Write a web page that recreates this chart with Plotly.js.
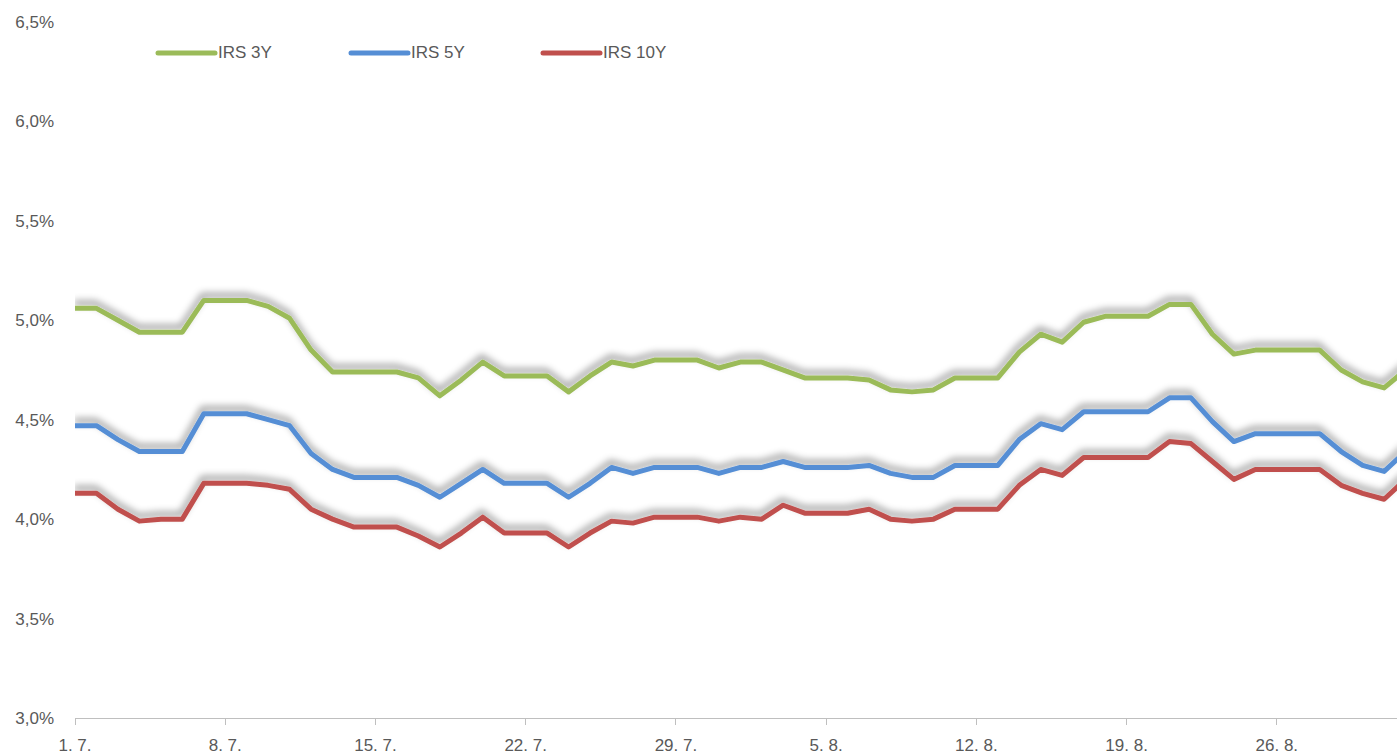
<!DOCTYPE html>
<html>
<head>
<meta charset="utf-8">
<script src="https://cdn.plot.ly/plotly-3.0.1.min.js"></script>
<style>
  html, body { margin: 0; padding: 0; background: #ffffff; }
  #chart { width: 1397px; height: 756px; }
</style>
</head>
<body>
<div id="chart"></div>
<script>
// ---- data ----
var startDate = '2024-07-01';
var seriesNames = ['IRS 3Y', 'IRS 5Y', 'IRS 10Y'];
var seriesColors = ['#9BBB59', '#558ED5', '#C0504D'];

var irs3y = [5.06, 5.06, 5.00, 4.94, 4.94, 4.94, 5.10, 5.10, 5.10, 5.07,
             5.01, 4.85, 4.74, 4.74, 4.74, 4.74, 4.71, 4.62, 4.70, 4.79,
             4.72, 4.72, 4.72, 4.64, 4.72, 4.79, 4.77, 4.80, 4.80, 4.80,
             4.76, 4.79, 4.79, 4.75, 4.71, 4.71, 4.71, 4.70, 4.65, 4.64,
             4.65, 4.71, 4.71, 4.71, 4.84, 4.93, 4.89, 4.99, 5.02, 5.02,
             5.02, 5.08, 5.08, 4.93, 4.83, 4.85, 4.85, 4.85, 4.85, 4.75,
             4.69, 4.66, 4.75];
var irs5y = [4.47, 4.47, 4.40, 4.34, 4.34, 4.34, 4.53, 4.53, 4.53, 4.50,
             4.47, 4.33, 4.25, 4.21, 4.21, 4.21, 4.17, 4.11, 4.18, 4.25,
             4.18, 4.18, 4.18, 4.11, 4.18, 4.26, 4.23, 4.26, 4.26, 4.26,
             4.23, 4.26, 4.26, 4.29, 4.26, 4.26, 4.26, 4.27, 4.23, 4.21,
             4.21, 4.27, 4.27, 4.27, 4.40, 4.48, 4.45, 4.54, 4.54, 4.54,
             4.54, 4.61, 4.61, 4.49, 4.39, 4.43, 4.43, 4.43, 4.43, 4.34,
             4.27, 4.24, 4.34];
var irs10y = [4.13, 4.13, 4.05, 3.99, 4.00, 4.00, 4.18, 4.18, 4.18, 4.17,
              4.15, 4.05, 4.00, 3.96, 3.96, 3.96, 3.915, 3.86, 3.93, 4.01,
              3.93, 3.93, 3.93, 3.86, 3.93, 3.99, 3.98, 4.01, 4.01, 4.01,
              3.99, 4.01, 4.00, 4.07, 4.03, 4.03, 4.03, 4.05, 4.00, 3.99,
              4.00, 4.05, 4.05, 4.05, 4.17, 4.25, 4.22, 4.31, 4.31, 4.31,
              4.31, 4.39, 4.38, 4.29, 4.20, 4.25, 4.25, 4.25, 4.25, 4.17,
              4.13, 4.10, 4.20];

var tickDates = ['2024-07-01', '2024-07-08', '2024-07-15', '2024-07-22', '2024-07-29',
                 '2024-08-05', '2024-08-12', '2024-08-19', '2024-08-26'];
var tickLabels = ['1. 7.', '8. 7.', '15. 7.', '22. 7.', '29. 7.',
                  '5. 8.', '12. 8.', '19. 8.', '26. 8.'];
var yTicks = [3.0, 3.5, 4.0, 4.5, 5.0, 5.5, 6.0, 6.5];
var yTickLabels = ['3,0%', '3,5%', '4,0%', '4,5%', '5,0%', '5,5%', '6,0%', '6,5%'];

// ---- x dates (one per calendar day) ----
function dayString(i) {
  var d = new Date(startDate + 'T00:00:00Z');
  d.setUTCDate(d.getUTCDate() + i);
  return d.toISOString().slice(0, 10);
}
var dates = irs3y.map(function (_, i) { return dayString(i); });

var allSeries = [irs3y, irs5y, irs10y];
var traces = allSeries.map(function (vals, k) {
  return {
    type: 'scatter', mode: 'lines', name: seriesNames[k],
    x: dates, y: vals,
    line: { color: seriesColors[k], width: 5 },
    hoverinfo: 'skip'
  };
});

// ---- layout helpers (pixels -> paper) ----
var W = 1397, H = 756, ML = 75, MR = 0, MT = 22, MB = 38;
var PW = W - ML - MR, PH = H - MT - MB;
function px(x) { return (x - ML) / PW; }
function py(y) { return (H - MB - y) / PH; }

var legendX = [158, 351, 543];
var legendLen = 57;
var legendY = 53;
var shapes = [], annotations = [];
seriesNames.forEach(function (n, k) {
  shapes.push({
    type: 'line', xref: 'paper', yref: 'paper',
    x0: px(legendX[k]), x1: px(legendX[k] + legendLen),
    y0: py(legendY), y1: py(legendY),
    line: { color: seriesColors[k], width: 5 }
  });
  annotations.push({
    xref: 'paper', yref: 'paper', x: px(legendX[k] + legendLen + 1), y: py(legendY),
    xanchor: 'left', yanchor: 'middle', showarrow: false,
    text: n, font: { size: 17, color: '#595959' }
  });
});

var layout = {
  width: W, height: H,
  margin: { l: ML, r: MR, t: MT, b: MB, pad: 0 },
  paper_bgcolor: '#ffffff', plot_bgcolor: '#ffffff',
  showlegend: false,
  font: { family: 'Liberation Sans, Arial, sans-serif', size: 17, color: '#595959' },
  xaxis: {
    type: 'date',
    range: ['2024-07-01', '2024-08-31 14:24'],
    tickmode: 'array', tickvals: tickDates, ticktext: tickLabels,
    showgrid: false, zeroline: false,
    showline: true, linecolor: '#bfbfbf', linewidth: 1,
    ticks: 'outside', ticklen: 6, tickcolor: '#bfbfbf', tickwidth: 1,
    ticklabelstandoff: 6,
    tickfont: { size: 17, color: '#595959' }
  },
  yaxis: {
    range: [3.0, 6.5],
    tickmode: 'array', tickvals: yTicks, ticktext: yTickLabels,
    showgrid: false, zeroline: false, showline: false, ticks: '',
    ticklabelstandoff: 20,
    tickfont: { size: 17, color: '#595959' }
  },
  shapes: shapes,
  annotations: annotations
};

Plotly.newPlot('chart', traces, layout, { staticPlot: true }).then(function () {
  var svg = document.querySelector('#chart .main-svg');
  var ns = 'http://www.w3.org/2000/svg';
  var defs = svg.querySelector('defs') || svg.insertBefore(document.createElementNS(ns, 'defs'), svg.firstChild);
  var f = document.createElementNS(ns, 'filter');
  f.setAttribute('id', 'lineShadow');
  f.setAttribute('x', '-5%'); f.setAttribute('y', '-60%');
  f.setAttribute('width', '110%'); f.setAttribute('height', '220%');
  var ds = document.createElementNS(ns, 'feDropShadow');
  ds.setAttribute('dx', '-1'); ds.setAttribute('dy', '-5');
  ds.setAttribute('stdDeviation', '3.5');
  ds.setAttribute('flood-color', '#000000');
  ds.setAttribute('flood-opacity', '0.4');
  f.appendChild(ds);
  defs.appendChild(f);
  document.querySelectorAll('#chart .scatterlayer .js-line').forEach(function (p) {
    p.setAttribute('filter', 'url(#lineShadow)');
    p.style.strokeLinejoin = 'round';
  });
  document.querySelectorAll('#chart .shapelayer path').forEach(function (p) {
    p.style.strokeLinecap = 'round';
  });
});
</script>
</body>
</html>
